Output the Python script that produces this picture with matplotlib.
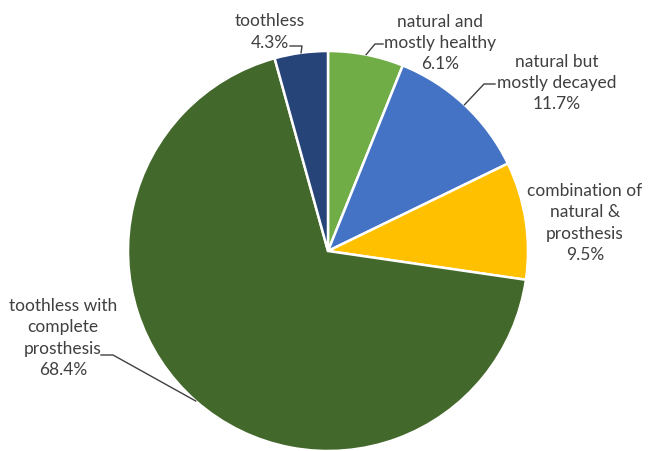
import numpy as np
import matplotlib
matplotlib.use("Agg")
import matplotlib.pyplot as plt

labels = ["natural and\nmostly healthy", "natural but\nmostly decayed",
          "combination of\nnatural &\nprosthesis", "toothless with\ncomplete\nprosthesis",
          "toothless"]
values = [6.1, 11.7, 9.5, 68.4, 4.3]
colors = ["#70ad47", "#4472c4", "#ffc000", "#43682b", "#264478"]

# label centre positions (data coords, pie radius = 1) and leader line start/elbow
label_pos = [(0.56, 1.045), (1.145, 0.845), (1.285, 0.145), (-1.325, -0.43), (-0.29, 1.10)]
leader = [((0.275, 1.035), (0.235, 1.035)),
          ((0.835, 0.835), (0.78, 0.835)),
          None,
          ((-1.135, -0.52), (-1.075, -0.52)),
          ((-0.19, 1.025), (-0.13, 1.025))]

plt.rcParams['font.family'] = ['Lato', 'DejaVu Sans']

fig = plt.figure(figsize=(6.48, 4.52), dpi=100)
ax = fig.add_axes([128 / 648, 0, 400 / 648, 400 / 452])
wedges, _ = ax.pie(values, colors=colors, startangle=90, counterclock=False,
                   radius=1, wedgeprops=dict(edgecolor="white", linewidth=1.8))
ax.set_xlim(-1, 1)
ax.set_ylim(-1, 1)
ax.set_aspect("equal")
ax.axis("off")

for w, lab, v, pos, ld in zip(wedges, labels, values, label_pos, leader):
    ax.text(pos[0], pos[1], f"{lab}\n{v}%", ha="center", va="center",
            fontsize=12.5, color="#404040", linespacing=1.42)
    if ld is not None:
        mid = np.radians((w.theta1 + w.theta2) / 2)
        end = (np.cos(mid), np.sin(mid))
        xs = [ld[0][0], ld[1][0], end[0]]
        ys = [ld[0][1], ld[1][1], end[1]]
        ax.plot(xs, ys, color="#404040", lw=1, clip_on=False)

fig.savefig("out.png", dpi=100)
